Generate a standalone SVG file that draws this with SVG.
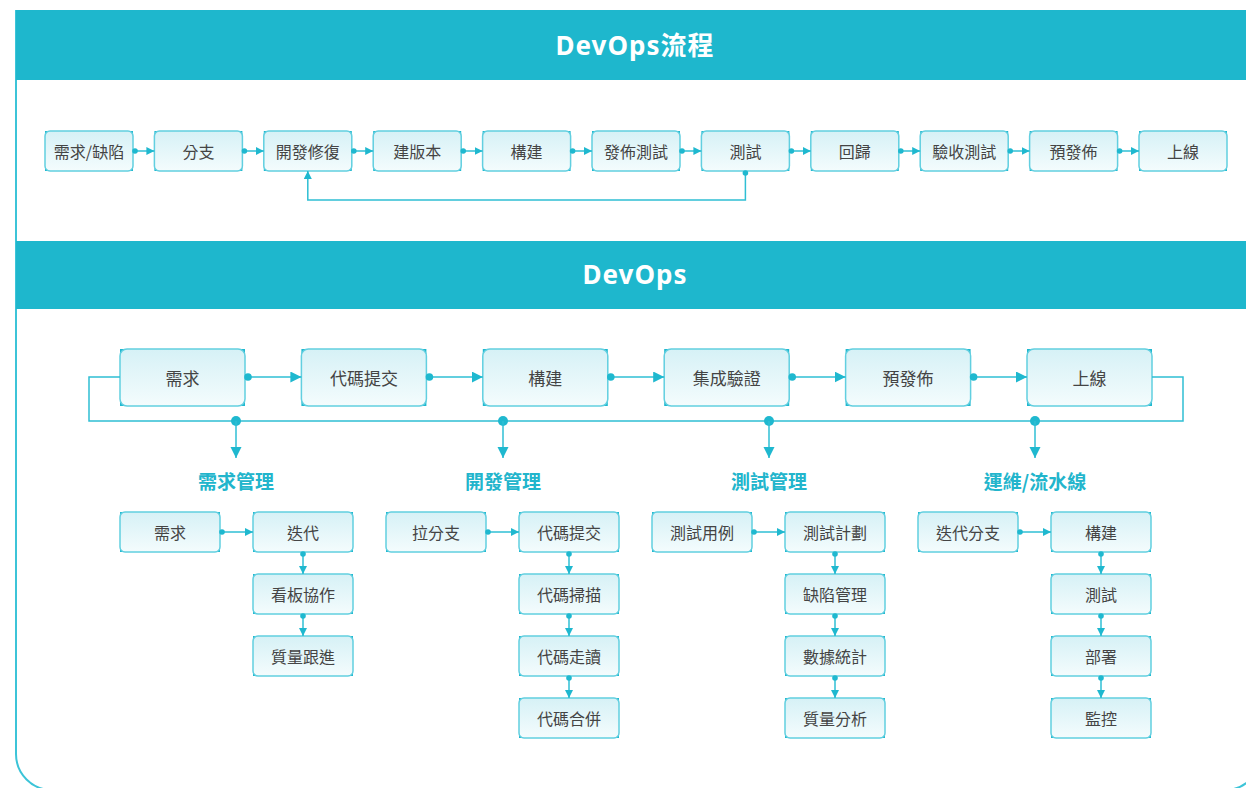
<svg xmlns="http://www.w3.org/2000/svg" width="1246" height="788" viewBox="0 0 1246 788">
<defs>
<linearGradient id="nf" x1="0" y1="0" x2="0" y2="1">
<stop offset="0" stop-color="#d6f1f6"/>
<stop offset="1" stop-color="#f4fcfd"/>
</linearGradient>
<marker id="ah" markerUnits="userSpaceOnUse" markerWidth="9" markerHeight="9" refX="8" refY="4" orient="auto"><path d="M0,0 L8,4 L0,8 z" fill="#1fb8cf"/></marker>
<marker id="dt" markerUnits="userSpaceOnUse" markerWidth="7" markerHeight="7" refX="3.5" refY="3.5" orient="auto"><circle cx="3.5" cy="3.5" r="2.8" fill="#1fb8cf"/></marker>
<marker id="ahL" markerUnits="userSpaceOnUse" markerWidth="12" markerHeight="12" refX="11" refY="5.5" orient="auto"><path d="M0,0 L11,5.5 L0,11 z" fill="#1fb8cf"/></marker>
<marker id="dtL" markerUnits="userSpaceOnUse" markerWidth="9" markerHeight="9" refX="4.5" refY="4.5" orient="auto"><circle cx="4.5" cy="4.5" r="3.8" fill="#1fb8cf"/></marker>
</defs>
<style>
.hdr{fill:#1eb7cd}
.ttl{font-family:"Noto Sans","Noto Sans CJK TC",sans-serif;font-weight:bold;fill:#ffffff;text-anchor:middle;letter-spacing:1px}
.c{fill:#1fb8cf}
.b{fill:url(#nf);stroke:#62cfe0;stroke-width:1.5}
.t{font-family:"Noto Sans CJK TC","Noto Sans",sans-serif;font-size:16px;fill:#444444;text-anchor:middle;dominant-baseline:central}
.tl{font-size:17px}
.sub{font-family:"Noto Sans CJK TC","Noto Sans",sans-serif;font-size:19px;font-weight:bold;fill:#22b5cc;text-anchor:middle}
.ln{fill:none;stroke:#2fbfd4;stroke-width:1.5}
.s{marker-start:url(#dt);marker-end:url(#ah)}
.sL{marker-start:url(#dtL);marker-end:url(#ahL)}
</style>
<path d="M16,10 V754 A36,36 0 0 0 52,790 H1225 A36,36 0 0 0 1261,754 V10" fill="#ffffff" stroke="#3cc4d8" stroke-width="2"/>
<rect class="hdr" x="16" y="10" width="1240" height="70"/>
<rect class="hdr" x="16" y="241" width="1240" height="68"/>
<text class="ttl" x="635" y="55" font-size="26">DevOps流程</text>
<text class="ttl" x="635" y="284" font-size="26">DevOps</text>

<g id="p1"><rect class="c" x="45" y="131" width="88" height="40"/><rect class="b" x="45" y="131" width="88" height="40" rx="5"/><text class="t" x="89" y="151">需求/缺陷</text></g>
<g id="p2"><rect class="c" x="154.4" y="131" width="88" height="40"/><rect class="b" x="154.4" y="131" width="88" height="40" rx="5"/><text class="t" x="198.4" y="151">分支</text></g>
<g id="p3"><rect class="c" x="263.8" y="131" width="88" height="40"/><rect class="b" x="263.8" y="131" width="88" height="40" rx="5"/><text class="t" x="307.8" y="151">開發修復</text></g>
<g id="p4"><rect class="c" x="373.2" y="131" width="88" height="40"/><rect class="b" x="373.2" y="131" width="88" height="40" rx="5"/><text class="t" x="417.2" y="151">建版本</text></g>
<g id="p5"><rect class="c" x="482.6" y="131" width="88" height="40"/><rect class="b" x="482.6" y="131" width="88" height="40" rx="5"/><text class="t" x="526.6" y="151">構建</text></g>
<g id="p6"><rect class="c" x="592" y="131" width="88" height="40"/><rect class="b" x="592" y="131" width="88" height="40" rx="5"/><text class="t" x="636" y="151">發佈測試</text></g>
<g id="p7"><rect class="c" x="701.4" y="131" width="88" height="40"/><rect class="b" x="701.4" y="131" width="88" height="40" rx="5"/><text class="t" x="745.4" y="151">測試</text></g>
<g id="p8"><rect class="c" x="810.8" y="131" width="88" height="40"/><rect class="b" x="810.8" y="131" width="88" height="40" rx="5"/><text class="t" x="854.8" y="151">回歸</text></g>
<g id="p9"><rect class="c" x="920.2" y="131" width="88" height="40"/><rect class="b" x="920.2" y="131" width="88" height="40" rx="5"/><text class="t" x="964.2" y="151">驗收測試</text></g>
<g id="p10"><rect class="c" x="1029.6" y="131" width="88" height="40"/><rect class="b" x="1029.6" y="131" width="88" height="40" rx="5"/><text class="t" x="1073.6" y="151">預發佈</text></g>
<g id="p11"><rect class="c" x="1139" y="131" width="88" height="40"/><rect class="b" x="1139" y="131" width="88" height="40" rx="5"/><text class="t" x="1183" y="151">上線</text></g>

<g id="m1"><rect class="c" x="120" y="349" width="125" height="57"/><rect class="b" x="120" y="349" width="125" height="57" rx="7"/><text class="t tl" x="182.5" y="377.5">需求</text></g>
<g id="m2"><rect class="c" x="301.4" y="349" width="125" height="57"/><rect class="b" x="301.4" y="349" width="125" height="57" rx="7"/><text class="t tl" x="363.9" y="377.5">代碼提交</text></g>
<g id="m3"><rect class="c" x="482.8" y="349" width="125" height="57"/><rect class="b" x="482.8" y="349" width="125" height="57" rx="7"/><text class="t tl" x="545.3" y="377.5">構建</text></g>
<g id="m4"><rect class="c" x="664.2" y="349" width="125" height="57"/><rect class="b" x="664.2" y="349" width="125" height="57" rx="7"/><text class="t tl" x="726.7" y="377.5">集成驗證</text></g>
<g id="m5"><rect class="c" x="845.6" y="349" width="125" height="57"/><rect class="b" x="845.6" y="349" width="125" height="57" rx="7"/><text class="t tl" x="908.1" y="377.5">預發佈</text></g>
<g id="m6"><rect class="c" x="1027" y="349" width="125" height="57"/><rect class="b" x="1027" y="349" width="125" height="57" rx="7"/><text class="t tl" x="1089.5" y="377.5">上線</text></g>

<text class="sub" x="236" y="489">需求管理</text>
<text class="sub" x="503" y="489">開發管理</text>
<text class="sub" x="769" y="489">測試管理</text>
<text class="sub" x="1035" y="489">運維/流水線</text>

<g id="a1"><rect class="c" x="120" y="512" width="100" height="40"/><rect class="b" x="120" y="512" width="100" height="40" rx="5"/><text class="t" x="170" y="532">需求</text></g>
<g id="a2"><rect class="c" x="253" y="512" width="100" height="40"/><rect class="b" x="253" y="512" width="100" height="40" rx="5"/><text class="t" x="303" y="532">迭代</text></g>
<g id="a3"><rect class="c" x="253" y="574" width="100" height="40"/><rect class="b" x="253" y="574" width="100" height="40" rx="5"/><text class="t" x="303" y="594">看板協作</text></g>
<g id="a4"><rect class="c" x="253" y="636" width="100" height="40"/><rect class="b" x="253" y="636" width="100" height="40" rx="5"/><text class="t" x="303" y="656">質量跟進</text></g>

<g id="b1"><rect class="c" x="386" y="512" width="100" height="40"/><rect class="b" x="386" y="512" width="100" height="40" rx="5"/><text class="t" x="436" y="532">拉分支</text></g>
<g id="b2"><rect class="c" x="519" y="512" width="100" height="40"/><rect class="b" x="519" y="512" width="100" height="40" rx="5"/><text class="t" x="569" y="532">代碼提交</text></g>
<g id="b3"><rect class="c" x="519" y="574" width="100" height="40"/><rect class="b" x="519" y="574" width="100" height="40" rx="5"/><text class="t" x="569" y="594">代碼掃描</text></g>
<g id="b4"><rect class="c" x="519" y="636" width="100" height="40"/><rect class="b" x="519" y="636" width="100" height="40" rx="5"/><text class="t" x="569" y="656">代碼走讀</text></g>
<g id="b5"><rect class="c" x="519" y="698" width="100" height="40"/><rect class="b" x="519" y="698" width="100" height="40" rx="5"/><text class="t" x="569" y="718">代碼合併</text></g>

<g id="c1"><rect class="c" x="652" y="512" width="100" height="40"/><rect class="b" x="652" y="512" width="100" height="40" rx="5"/><text class="t" x="702" y="532">測試用例</text></g>
<g id="c2"><rect class="c" x="785" y="512" width="100" height="40"/><rect class="b" x="785" y="512" width="100" height="40" rx="5"/><text class="t" x="835" y="532">測試計劃</text></g>
<g id="c3"><rect class="c" x="785" y="574" width="100" height="40"/><rect class="b" x="785" y="574" width="100" height="40" rx="5"/><text class="t" x="835" y="594">缺陷管理</text></g>
<g id="c4"><rect class="c" x="785" y="636" width="100" height="40"/><rect class="b" x="785" y="636" width="100" height="40" rx="5"/><text class="t" x="835" y="656">數據統計</text></g>
<g id="c5"><rect class="c" x="785" y="698" width="100" height="40"/><rect class="b" x="785" y="698" width="100" height="40" rx="5"/><text class="t" x="835" y="718">質量分析</text></g>

<g id="d1"><rect class="c" x="918" y="512" width="100" height="40"/><rect class="b" x="918" y="512" width="100" height="40" rx="5"/><text class="t" x="968" y="532">迭代分支</text></g>
<g id="d2"><rect class="c" x="1051" y="512" width="100" height="40"/><rect class="b" x="1051" y="512" width="100" height="40" rx="5"/><text class="t" x="1101" y="532">構建</text></g>
<g id="d3"><rect class="c" x="1051" y="574" width="100" height="40"/><rect class="b" x="1051" y="574" width="100" height="40" rx="5"/><text class="t" x="1101" y="594">測試</text></g>
<g id="d4"><rect class="c" x="1051" y="636" width="100" height="40"/><rect class="b" x="1051" y="636" width="100" height="40" rx="5"/><text class="t" x="1101" y="656">部署</text></g>
<g id="d5"><rect class="c" x="1051" y="698" width="100" height="40"/><rect class="b" x="1051" y="698" width="100" height="40" rx="5"/><text class="t" x="1101" y="718">監控</text></g>

<g id="connectors">
<path class="ln s" d="M135,151 H154.4"/>
<path class="ln s" d="M244.4,151 H263.8"/>
<path class="ln s" d="M353.8,151 H373.2"/>
<path class="ln s" d="M463.2,151 H482.6"/>
<path class="ln s" d="M572.6,151 H592"/>
<path class="ln s" d="M682,151 H701.4"/>
<path class="ln s" d="M791.4,151 H810.8"/>
<path class="ln s" d="M900.8,151 H920.2"/>
<path class="ln s" d="M1010.2,151 H1029.6"/>
<path class="ln s" d="M1119.6,151 H1139"/>
<path class="ln s" d="M745.4,173 V200 H307.8 V171"/>

<path class="ln sL" d="M248,377 H301.4"/>
<path class="ln sL" d="M429.4,377 H482.8"/>
<path class="ln sL" d="M610.8,377 H664.2"/>
<path class="ln sL" d="M792.2,377 H845.6"/>
<path class="ln sL" d="M973.6,377 H1027"/>
<path class="ln" d="M120,377 H89 V421 H1183 V377 H1152"/>
<g fill="#1fb8cf">
<circle cx="236" cy="421" r="5"/><circle cx="503" cy="421" r="5"/><circle cx="769" cy="421" r="5"/><circle cx="1035" cy="421" r="5"/>
</g>
<path class="ln" marker-end="url(#ahL)" d="M236,421 V458"/>
<path class="ln" marker-end="url(#ahL)" d="M503,421 V458"/>
<path class="ln" marker-end="url(#ahL)" d="M769,421 V458"/>
<path class="ln" marker-end="url(#ahL)" d="M1035,421 V458"/>

<path class="ln s" d="M222,532 H253"/>
<path class="ln s" d="M303,554 V574"/>
<path class="ln s" d="M303,616 V636"/>
<path class="ln s" d="M488,532 H519"/>
<path class="ln s" d="M569,554 V574"/>
<path class="ln s" d="M569,616 V636"/>
<path class="ln s" d="M569,678 V698"/>
<path class="ln s" d="M754,532 H785"/>
<path class="ln s" d="M835,554 V574"/>
<path class="ln s" d="M835,616 V636"/>
<path class="ln s" d="M835,678 V698"/>
<path class="ln s" d="M1020,532 H1051"/>
<path class="ln s" d="M1101,554 V574"/>
<path class="ln s" d="M1101,616 V636"/>
<path class="ln s" d="M1101,678 V698"/>
</g>
</svg>
